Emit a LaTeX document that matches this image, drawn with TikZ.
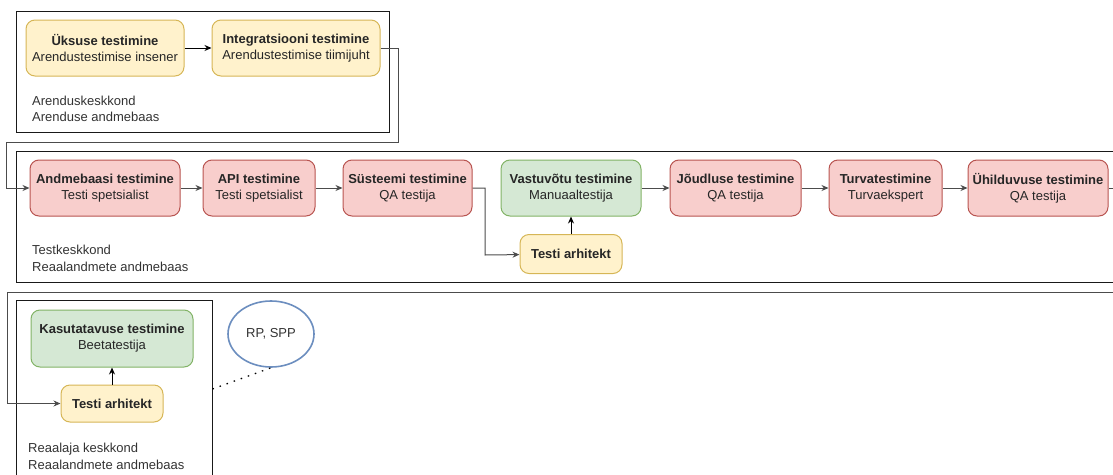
\documentclass[tikz,border=0pt]{standalone}
\usepackage{fontspec}
\setmainfont{Liberation Sans}
\definecolor{myyellow}{HTML}{FFF2CC}
\definecolor{myyellowline}{HTML}{D6B656}
\definecolor{myred}{HTML}{F8CECC}
\definecolor{myredline}{HTML}{B85450}
\definecolor{mygreen}{HTML}{D5E8D4}
\definecolor{mygreenline}{HTML}{82B366}
\definecolor{myblueline}{HTML}{6C8EBF}
\usetikzlibrary{
  positioning, calc, shapes.geometric, arrows.meta
}
\tikzset{
	stepnode/.style={
			rectangle,
			rounded corners=9pt,
			draw,
			line width=1pt,
			align=center,
			inner sep=0pt,
			minimum height=56pt,
			text=black!85,
			font=\fontsize{13}{16}\selectfont
		},
	yellownode/.style={
			stepnode,
			draw=myyellowline,
			fill=myyellow
		},
	rednode/.style={
			stepnode,
			draw=myredline,
			fill=myred
		},
	greennode/.style={
			stepnode,
			draw=mygreenline,
			fill=mygreen
		},
	envbox/.style={
			rectangle,
			draw=black!90,
			line width=1pt,
			inner sep=0pt
		},
	envlabel/.style={
			anchor=west,
			align=left,
			inner sep=0pt,
			text=black!80,
			font=\fontsize{13}{16.5}\selectfont
		},
	link/.style={
			line width=1pt,
			draw=black!70,
			-{Stealth[length=7pt,width=6pt]}
		}
}

\begin{document}
\begin{tikzpicture}[x=1pt, y=-1pt]
\clip (0,0) rectangle (1113,474);

% keskkonnad
\node[envbox, minimum width=373pt, minimum height=121pt] (env1) at (202.5,71.5) {};
\node[envbox, minimum width=1114pt, minimum height=131pt] (env2) at (573,216.5) {};
\node[envbox, minimum width=196pt, minimum height=178pt] (env3) at (114,389) {};

\node[envlabel] (lbl1) at (32,109) {Arenduskeskkond\\Arenduse andmebaas};
\node[envlabel] (lbl2) at (32,258.5) {Testkeskkond\\Reaalandmete andmebaas};
\node[envlabel] (lbl3) at (28,456.5) {Reaalaja keskkond\\Reaalandmete andmebaas};

% arendus
\node[yellownode, minimum width=158pt] (tUk) at (105,48) {\textbf{Üksuse testimine}\\Arendustestimise insener};
\node[yellownode, minimum width=168pt] (tIg) at (296,48) {\textbf{Integratsiooni testimine}\\Arendustestimise tiimijuht};

% test
\node[rednode, minimum width=150pt] (tAd) at (105,188) {\textbf{Andmebaasi testimine}\\Testi spetsialist};
\node[rednode, minimum width=112pt] (tApi) at (259,188) {\textbf{API testimine}\\Testi spetsialist};
\node[rednode, minimum width=129pt] (tSu) at (407.5,188) {\textbf{Süsteemi testimine}\\QA testija};
\node[greennode, minimum width=140pt] (tVa) at (571,188) {\textbf{Vastuvõtu testimine}\\Manuaaltestija};
\node[rednode, minimum width=131pt] (tJo) at (735.5,188) {\textbf{Jõudluse testimine}\\QA testija};
\node[rednode, minimum width=113pt] (tTu) at (885.5,188) {\textbf{Turvatestimine}\\Turvaekspert};
\node[rednode, minimum width=140pt] (tUh) at (1038,188) {\textbf{Ühilduvuse testimine}\\QA testija};
\node[yellownode, minimum width=102pt, minimum height=39pt] (tTa) at (571,254) {\textbf{Testi arhitekt}};

% reaalaeg
\node[greennode, minimum width=162pt, minimum height=57pt] (tKa) at (112,338.5) {\textbf{Kasutatavuse testimine}\\Beetatestija};
\node[yellownode, minimum width=102pt, minimum height=37pt] (tTb) at (112,403.5) {\textbf{Testi arhitekt}};
\node[ellipse, draw=myblueline, line width=1.6pt, fill=white, minimum width=86pt, minimum height=66pt,
      text=black!80, font=\fontsize{13}{16}\selectfont] (tRp) at (271,334) {RP, SPP};

\coordinate (c1) at (398,142);
\coordinate (c2) at (6,142);
\coordinate (c3) at (485,255);
\coordinate (c4) at (1125,292);
\coordinate (c5) at (7,292);

\draw[link, draw=black] (tUk) edge (tIg);
\draw[link] (tIg) -| (c1) -- (c2) |- (tAd);
\draw[link] (tAd) edge (tApi);
\draw[link] (tApi) edge (tSu);
\draw[link] (tSu) -| (c3) -- (tTa);
\draw[link, draw=black] (tTa) edge (tVa);
\draw[link] (tVa) edge (tJo);
\draw[link] (tJo) edge (tTu);
\draw[link] (tTu) edge (tUh);
\draw[link] (tUh) -| (c4) -- (c5) |- (tTb);
\draw[link, draw=black] (tTb) edge (tKa);

\draw[line width=1.3pt, dash pattern=on 1.5pt off 6pt] (env3.east) -- (tRp.south);

\end{tikzpicture}
\end{document}
